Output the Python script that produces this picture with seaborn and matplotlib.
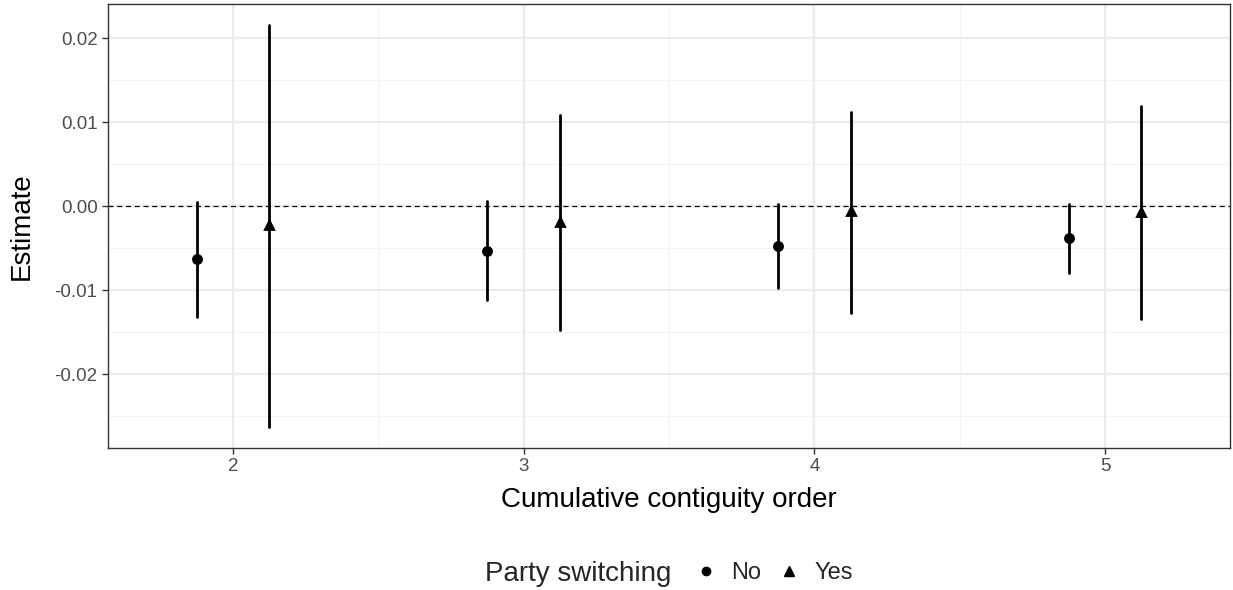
import pandas as pd
import matplotlib
matplotlib.use("Agg")
import matplotlib.pyplot as plt
from matplotlib.lines import Line2D
from matplotlib.ticker import FixedLocator, FixedFormatter
import seaborn as sns

# Data
orders = ["2", "3", "4", "5"]
est_no = [-0.0063, -0.0053, -0.0047, -0.0038]
lo_no = [-0.0132, -0.0112, -0.0098, -0.0080]
hi_no = [0.0005, 0.0006, 0.0003, 0.0003]
est_yes = [-0.0023, -0.0019, -0.0006, -0.0007]
lo_yes = [-0.0263, -0.0148, -0.0127, -0.0135]
hi_yes = [0.0215, 0.0108, 0.0112, 0.0119]

# long table: lo / est / hi per group; median gives the estimate, min/max the interval
rows = []
for grp, est, lo, hi in [("No", est_no, lo_no, hi_no), ("Yes", est_yes, lo_yes, hi_yes)]:
    for i, o in enumerate(orders):
        for v in (lo[i], est[i], hi[i]):
            rows.append({"order": o, "Party switching": grp, "value": v})
df = pd.DataFrame(rows)

sns.set_style("white")
plt.rcParams["font.family"] = ["Liberation Sans", "DejaVu Sans"]
plt.rcParams["axes.unicode_minus"] = False

fig = plt.figure(figsize=(12.33, 5.9), dpi=100)
ax = fig.add_axes([108 / 1233, 1 - 448 / 590, (1230 - 108) / 1233, (448 - 4) / 590])

# grid (theme_bw style)
for y in [-0.025, -0.015, -0.005, 0.005, 0.015]:
    ax.axhline(y, color="#F3F3F3", lw=0.8, zorder=0)
for y in [-0.02, -0.01, 0.0, 0.01, 0.02]:
    ax.axhline(y, color="#EBEBEB", lw=1.6, zorder=0)
for x in [0.5, 1.5, 2.5]:
    ax.axvline(x, color="#F3F3F3", lw=0.8, zorder=0)
for x in [0, 1, 2, 3]:
    ax.axvline(x, color="#EBEBEB", lw=1.6, zorder=0)

ax.axhline(0, color="black", lw=0.9, ls=(0, (4, 3)), zorder=1)

sns.pointplot(
    data=df, x="order", y="value", hue="Party switching",
    order=orders, hue_order=["No", "Yes"],
    estimator="median", errorbar=lambda v: (v.min(), v.max()),
    dodge=0.25, linestyle="none", markers=["o", "^"],
    palette={"No": "black", "Yes": "black"},
    markersize=5.8, err_kws={"linewidth": 2.0},
    legend=False, ax=ax, zorder=3,
)

ax.set_xlim(-0.43, 3.43)
ax.set_ylim(-0.0288, 0.02405)
ax.yaxis.set_major_locator(FixedLocator([-0.02, -0.01, 0.0, 0.01, 0.02]))
ax.yaxis.set_major_formatter(FixedFormatter(["-0.02", "-0.01", "0.00", "0.01", "0.02"]))
ax.tick_params(axis="both", labelsize=13.5, labelcolor="#4D4D4D", color="#333333",
               length=4, width=1, direction="out", left=True, bottom=True)
ax.set_xlabel("Cumulative contiguity order", fontsize=20, color="black", va="center")
ax.set_ylabel("Estimate", fontsize=20, color="black", va="center")
ax.xaxis.set_label_coords(0.5, (448 - 500) / 444)
ax.yaxis.set_label_coords((22 - 108) / 1122, 0.5)
for s in ax.spines.values():
    s.set_color("#333333")
    s.set_linewidth(1.0)

# legend at the bottom with inline title
handles = [
    Line2D([], [], color="black", marker="o", linestyle="none", markersize=6),
    Line2D([], [], color="black", marker="^", linestyle="none", markersize=7),
]
fig.text(485 / 1233, 1 - 574 / 590, "Party switching", fontsize=20, va="center", ha="left")
fig.legend(handles, ["No", "Yes"], loc="center left", bbox_to_anchor=(682 / 1233, 1 - 573 / 590),
           ncol=2, frameon=False, fontsize=17, handlelength=1.0, handletextpad=0.6,
           columnspacing=0.65, borderpad=0)

fig.savefig("out.png", dpi=100)
